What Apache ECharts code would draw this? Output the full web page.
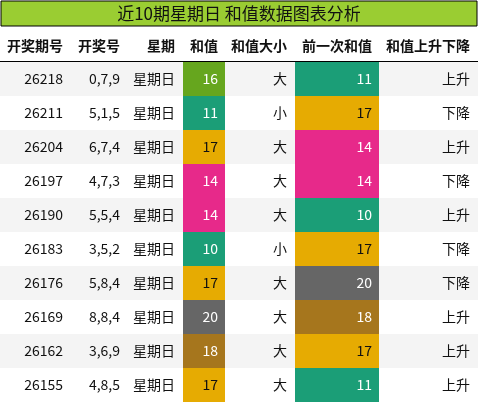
<!DOCTYPE html>
<html><head><meta charset="utf-8">
<script src="https://cdn.jsdelivr.net/npm/echarts@6/dist/echarts.min.js"></script>
<style>html,body{margin:0;padding:0;background:#fff}#c{width:478px;height:404px}</style>
</head><body><div id="c"></div>
<script>
const title = '近10期星期日 和值数据图表分析';
const headers = ['开奖期号','开奖号','星期','和值','和值大小','前一次和值','和值上升下降'];
const periods = ['26218','26211','26204','26197','26190','26183','26176','26169','26162','26155'];
const numbers = ['0,7,9','5,1,5','6,7,4','4,7,3','5,5,4','3,5,2','5,8,4','8,8,4','3,6,9','4,8,5'];
const weekdays = ['星期日','星期日','星期日','星期日','星期日','星期日','星期日','星期日','星期日','星期日'];
const sums = [16,11,17,14,14,10,17,20,18,17];
const sizes = ['大','小','大','大','大','小','大','大','大','大'];
const prevSums = [11,17,14,14,10,17,20,18,17,11];
const trends = ['上升','下降','上升','下降','上升','下降','下降','上升','上升','上升'];

const colorOf = {10:'#1b9e77',11:'#1b9e77',14:'#e7298a',16:'#66a61e',17:'#e6ab02',18:'#a6761d',20:'#666666'};
const textOn = v => v===17 ? '#111' : '#fff';
const rightEdges = [63,120,175,218,287,372,470];
const FONT = '"Noto Sans CJK SC", sans-serif';

const chart = echarts.init(document.getElementById('c'));
chart.setOption({
  animation:false,
  grid:{left:0,right:0,top:62,bottom:2},
  xAxis:{type:'value',min:0,max:478,show:false},
  yAxis:{type:'category',data:periods,inverse:true,show:false},
  graphic:[
    {type:'rect',shape:{x:1,y:1,width:476,height:25},style:{fill:'#9acd32',stroke:'#000',lineWidth:1}},
    {type:'text',x:239,y:14,style:{text:title,font:'17px '+FONT,fill:'#111',align:'center',verticalAlign:'middle'}},
    ...headers.map((h,i)=>({type:'text',x:rightEdges[i],y:46,style:{text:h,font:'bold 14px '+FONT,fill:'#111',align:'right',verticalAlign:'middle'}})),
    {type:'rect',shape:{x:0,y:61,width:478,height:2},style:{fill:'#000'}}
  ],
  series:[{
    type:'custom',
    data:periods.map((p,i)=>[0,i]),
    renderItem:(params,api)=>{
      const i = api.value(1);
      const c = api.coord([0,i]);
      const h = api.size([0,1])[1];
      const top = c[1]-h/2, cy=c[1];
      const x0 = api.coord([0,0])[0];
      const kids = [
        {type:'rect',shape:{x:x0,y:top,width:478,height:h},style:{fill:i%2===0?'#f4f4f4':'#fff'}},
        {type:'rect',shape:{x:x0+183,y:top,width:42,height:h},style:{fill:colorOf[sums[i]]}},
        {type:'rect',shape:{x:x0+295,y:top,width:84,height:h},style:{fill:colorOf[prevSums[i]]}}
      ];
      const vals = [periods[i],numbers[i],weekdays[i],String(sums[i]),sizes[i],String(prevSums[i]),trends[i]];
      vals.forEach((v,k)=>{
        let fill='#111';
        if(k===3) fill=textOn(sums[i]);
        if(k===5) fill=textOn(prevSums[i]);
        kids.push({type:'text',x:x0+rightEdges[k],y:cy,style:{text:v,font:'14px '+FONT,fill:fill,align:'right',verticalAlign:'middle'}});
      });
      return {type:'group',children:kids};
    }
  }]
});
</script></body></html>
